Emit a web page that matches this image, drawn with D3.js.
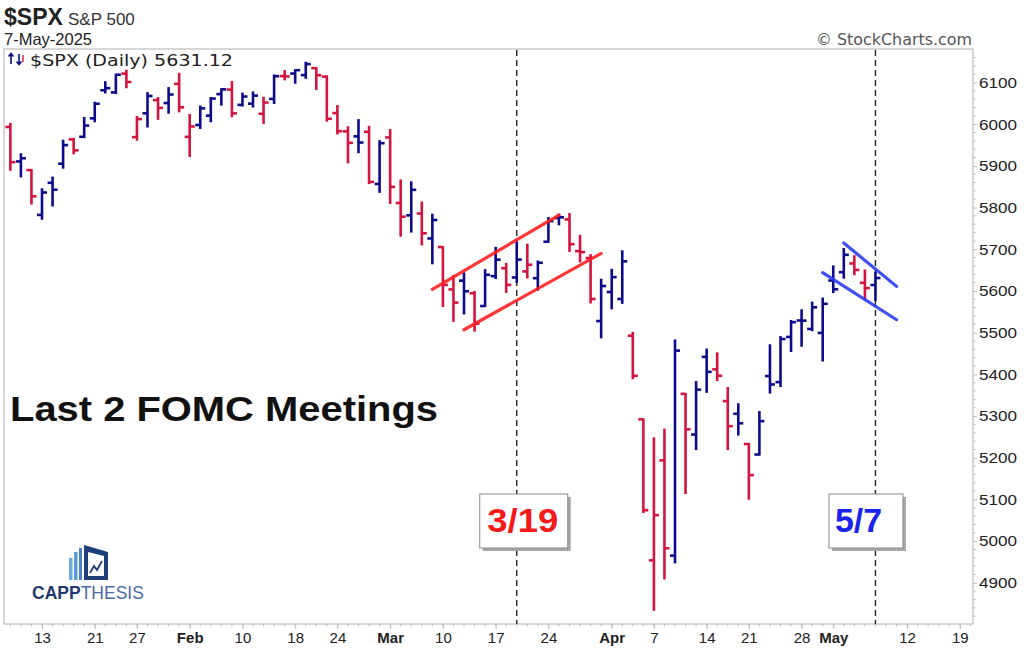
<!DOCTYPE html>
<html><head><meta charset="utf-8">
<script src="https://cdn.jsdelivr.net/npm/d3@7"></script>
<style>
body{margin:0;background:#fff;}
svg{display:block;font-family:"Liberation Sans",Arial,sans-serif;}
</style>
</head><body>
<svg id="c" width="1024" height="648"></svg>
<script>
// ---------------- DATA ----------------
const dates = ["2025-01-07","2025-01-08","2025-01-10","2025-01-13","2025-01-14","2025-01-15","2025-01-16","2025-01-17","2025-01-21","2025-01-22","2025-01-23","2025-01-24","2025-01-27","2025-01-28","2025-01-29","2025-01-30","2025-01-31",
"2025-02-03","2025-02-04","2025-02-05","2025-02-06","2025-02-07","2025-02-10","2025-02-11","2025-02-12","2025-02-13","2025-02-14","2025-02-18","2025-02-19","2025-02-20","2025-02-21","2025-02-24","2025-02-25","2025-02-26","2025-02-27","2025-02-28",
"2025-03-03","2025-03-04","2025-03-05","2025-03-06","2025-03-07","2025-03-10","2025-03-11","2025-03-12","2025-03-13","2025-03-14","2025-03-17","2025-03-18","2025-03-19","2025-03-20","2025-03-21","2025-03-24","2025-03-25","2025-03-26","2025-03-27","2025-03-28","2025-03-31",
"2025-04-01","2025-04-02","2025-04-03","2025-04-04","2025-04-07","2025-04-08","2025-04-09","2025-04-10","2025-04-11","2025-04-14","2025-04-15","2025-04-16","2025-04-17","2025-04-21","2025-04-22","2025-04-23","2025-04-24","2025-04-25","2025-04-28","2025-04-29","2025-04-30",
"2025-05-01","2025-05-02","2025-05-05","2025-05-06","2025-05-07"];

const opens = [5993.3,5910.7,5890.0,5782.4,5859.4,5905.2,5963.6,5969.8,6014.1,6081.4,6076.3,6121.4,5969.0,6026.0,6057.7,6050.8,6096.8,
5969.7,5998.1,6020.5,6072.2,6083.1,6046.4,6049.3,6025.1,6060.6,6115.5,6121.6,6117.8,6134.5,6114.1,6026.7,5982.7,5970.9,5981.9,5856.7,
5968.3,5811.1,5781.4,5785.9,5726.0,5705.4,5603.7,5624.8,5594.5,5563.9,5635.6,5654.5,5632.4,5646.9,5630.7,5718.1,5775.1,5771.7,5695.6,5679.0,5527.9,
5597.5,5580.8,5492.7,5292.1,4953.8,5193.6,4965.3,5353.2,5255.6,5442.0,5412.0,5335.8,5305.5,5232.9,5207.7,5395.9,5381.4,5489.7,5529.2,5508.9,5499.4,
5625.1,5645.1,5666.0,5619.6,5614.3];

const highs = [6000.7,5927.9,5890.0,5844.0,5871.9,5960.6,5964.7,6014.9,6051.5,6100.8,6118.7,6128.2,6017.2,6074.5,6062.8,6086.6,6120.9,
6022.1,6042.5,6062.9,6084.0,6101.3,6073.4,6076.3,6063.6,6116.9,6127.5,6129.6,6147.4,6134.5,6114.8,6043.6,5992.7,6009.8,5993.7,5959.4,
5986.1,5865.1,5860.6,5812.1,5783.0,5705.4,5636.3,5642.2,5597.8,5650.0,5703.5,5665.0,5715.3,5711.2,5670.8,5775.1,5783.2,5784.6,5732.3,5685.9,5627.0,
5650.8,5695.3,5499.5,5292.1,5246.6,5267.5,5481.3,5353.2,5381.5,5459.5,5450.4,5367.2,5328.3,5232.9,5309.6,5469.7,5489.4,5528.1,5553.7,5572.0,5581.8,
5658.9,5700.7,5683.4,5649.2,5644.0];

const lows = [5890.7,5874.8,5809.7,5773.3,5805.0,5895.7,5930.2,5969.0,6006.9,6076.1,6074.7,6088.7,5962.9,5994.6,6012.9,6027.5,6030.9,
5923.9,5990.9,6007.1,6046.8,6019.0,6044.8,6042.3,6003.0,6051.0,6107.6,6099.5,6111.2,6084.6,6008.6,5977.8,5908.5,5932.7,5858.8,5837.7,
5810.9,5732.6,5742.4,5711.6,5666.3,5564.0,5528.4,5546.1,5504.7,5563.9,5631.1,5597.8,5622.2,5632.3,5603.1,5718.1,5759.9,5695.9,5670.9,5572.4,5488.7,
5558.5,5571.5,5390.8,5069.9,4835.0,4910.4,4949.0,5115.3,5220.8,5358.0,5386.4,5220.8,5255.6,5101.6,5207.7,5356.2,5372.0,5455.9,5468.6,5505.7,5433.2,
5597.4,5631.9,5640.0,5581.2,5578.0];

const closes = [5909.0,5918.3,5827.0,5836.2,5842.9,5949.9,5937.3,5996.7,6049.2,6086.4,6118.7,6101.2,6012.3,6067.7,6039.3,6071.2,6040.5,
5994.6,6037.9,6061.5,6083.6,6026.0,6066.4,6068.5,6052.0,6115.1,6114.6,6129.6,6144.2,6117.5,6013.1,5983.3,5955.3,5956.1,5861.6,5954.5,
5849.7,5778.2,5842.6,5738.5,5770.2,5614.6,5572.1,5599.3,5521.5,5638.9,5675.1,5614.7,5675.3,5662.9,5667.6,5767.6,5776.7,5712.2,5693.3,5580.9,5611.9,
5633.1,5671.0,5396.5,5074.1,5062.3,4982.8,5456.9,5268.1,5363.4,5406.0,5396.6,5275.7,5282.7,5158.2,5287.8,5375.9,5484.8,5525.2,5528.8,5560.8,5569.1,
5604.1,5686.7,5650.4,5606.9,5631.1];

const futureDates = ["2025-05-08","2025-05-09","2025-05-12","2025-05-13","2025-05-14","2025-05-15","2025-05-16","2025-05-19","2025-05-20"];

const tickDates  = ["2025-01-13","2025-01-21","2025-01-27","2025-02-03","2025-02-10","2025-02-18","2025-02-24","2025-03-03","2025-03-10","2025-03-17","2025-03-24","2025-04-01","2025-04-07","2025-04-14","2025-04-21","2025-04-28","2025-05-01","2025-05-12","2025-05-19"];
const tickLabels = ["13","21","27","Feb","10","18","24","Mar","10","17","24","Apr","7","14","21","28","May","12","19"];
const monthLabels = ["Feb","Mar","Apr","May"];

const priceTicks = [4900,5000,5100,5200,5300,5400,5500,5600,5700,5800,5900,6000,6100];

const fomcDates  = ["2025-03-19","2025-05-07"];
const fomcLabels = ["3/19","5/7"];

// trend channels: [date, price] end points
const redUpper  = [["2025-03-07",5604],["2025-03-25",5782]];
const redLower  = [["2025-03-12",5507],["2025-03-31",5690]];
const blueUpper = [["2025-05-02",5715],["2025-05-09",5611]];
const blueLower = [["2025-04-30",5644],["2025-05-09",5531]];

const symbol = "$SPX", symbolName = "S&P 500", asOf = "7-May-2025";
const legendText = "$SPX (Daily) 5631.12";
const title = "Last 2 FOMC Meetings";

// ---------------- CHART ----------------
const svg = d3.select("#c");
const L = 4, T = 49, R = 973, B = 624;
const RED = "#d3153f", BLUE = "#0c0c8a";

const allDates = dates.concat(futureDates);
const x = d3.scalePoint().domain(allDates).range([10.35, 970.4]);
const y = d3.scaleLinear().domain([4800, 6178]).range([624.5, 50]);

// frame
svg.append("rect").attr("x", L).attr("y", T).attr("width", R - L).attr("height", B - T)
  .attr("fill", "#fff").attr("stroke", "#bdbdbd").attr("stroke-width", 1.2);

// right axis
const yAxis = svg.append("g").attr("transform", `translate(${R},0)`)
  .call(d3.axisRight(y).tickValues(priceTicks).tickSize(4).tickPadding(2).tickFormat(d3.format("d")));
yAxis.select(".domain").remove();
yAxis.selectAll(".tick line").attr("stroke", "#bbb");
yAxis.selectAll("text").attr("font-size", 15).attr("fill", "#222")
  .attr("textLength", 38).attr("lengthAdjust", "spacingAndGlyphs");
svg.append("g").selectAll("line").data(d3.range(4820, 6178, 20).filter(v => v % 100 !== 0)).join("line")
  .attr("x1", R).attr("x2", R + 2.5).attr("y1", d => y(d)).attr("y2", d => y(d)).attr("stroke", "#bbb");

// bottom axis
const xAxis = svg.append("g").attr("transform", `translate(0,${B})`)
  .call(d3.axisBottom(x).tickValues(tickDates).tickSize(5).tickPadding(3).tickFormat((d, i) => tickLabels[i]));
xAxis.select(".domain").remove();
xAxis.selectAll(".tick line").attr("stroke", "#bbb");
xAxis.selectAll("text").attr("font-size", 15).attr("fill", "#222")
  .attr("font-weight", d => monthLabels.includes(tickLabels[tickDates.indexOf(d)]) ? "bold" : "normal");
svg.append("g").selectAll("line").data(allDates).join("line")
  .attr("x1", d => x(d)).attr("x2", d => x(d)).attr("y1", B).attr("y2", B + 2.5).attr("stroke", "#bbb");

// dashed FOMC lines
svg.append("g").selectAll("line").data(fomcDates).join("line")
  .attr("x1", d => x(d)).attr("x2", d => x(d)).attr("y1", T + 1).attr("y2", B)
  .attr("stroke", "#222").attr("stroke-width", 1.4).attr("stroke-dasharray", "6,4");

// OHLC bars
const bars = dates.map((d, i) => ({
  d, o: opens[i], h: highs[i], l: lows[i], c: closes[i],
  up: closes[i] >= (i > 0 ? closes[i - 1] : opens[i])
}));
const bg = svg.append("g").attr("stroke-width", 2.6).attr("stroke-linecap", "butt");
const bar = bg.selectAll("g").data(bars).join("g").attr("stroke", b => b.up ? BLUE : RED);
bar.append("line").attr("x1", b => x(b.d)).attr("x2", b => x(b.d)).attr("y1", b => y(b.h) - 1).attr("y2", b => y(b.l) + 1);
bar.append("line").attr("x1", b => x(b.d) - 5).attr("x2", b => x(b.d)).attr("y1", b => y(b.o)).attr("y2", b => y(b.o));
bar.append("line").attr("x1", b => x(b.d)).attr("x2", b => x(b.d) + 5).attr("y1", b => y(b.c)).attr("y2", b => y(b.c));

// channels
const chan = (pts, col) => svg.append("line")
  .attr("x1", x(pts[0][0])).attr("y1", y(pts[0][1])).attr("x2", x(pts[1][0])).attr("y2", y(pts[1][1]))
  .attr("stroke", col).attr("stroke-width", 3.2).attr("stroke-opacity", 0.9).attr("stroke-linecap", "round");
chan(redUpper, "#ff1f1f"); chan(redLower, "#ff1f1f");
chan(blueUpper, "#2a3cf0"); chan(blueLower, "#2a3cf0");

// FOMC label boxes
const boxCfg = [{dx: -37, w: 88, tx: 6, col: "#f21b1b", tw: 71}, {dx: -46.5, w: 74, tx: -17, col: "#1a22ee", tw: 47}];
fomcDates.forEach((d, i) => {
  const c = boxCfg[i], bx = x(d) + c.dx, by = 494, bh = 54;
  svg.append("rect").attr("x", bx + 3).attr("y", by + 3).attr("width", c.w).attr("height", bh).attr("fill", "#a8a8a8");
  svg.append("rect").attr("x", bx).attr("y", by).attr("width", c.w).attr("height", bh)
    .attr("fill", "#fff").attr("stroke", "#8a8a8a").attr("stroke-width", 1);
  svg.append("text").attr("x", x(d) + c.tx).attr("y", 532).attr("text-anchor", "middle")
    .attr("font-size", 33).attr("font-weight", "bold").attr("fill", c.col)
    .attr("textLength", c.tw).attr("lengthAdjust", "spacingAndGlyphs").text(fomcLabels[i]);
});

// title text
svg.append("text").attr("x", 10).attr("y", 421).attr("font-size", 35).attr("font-weight", "bold")
  .attr("fill", "#111").attr("textLength", 428).attr("lengthAdjust", "spacingAndGlyphs").text(title);

// header
svg.append("text").attr("x", 4).attr("y", 25).attr("font-size", 23).attr("font-weight", "bold").attr("fill", "#222").text(symbol);
svg.append("text").attr("x", 68).attr("y", 25).attr("font-size", 17).attr("fill", "#333").text(symbolName);
svg.append("text").attr("x", 4).attr("y", 45).attr("font-size", 16.5).attr("fill", "#222").text(asOf);
svg.append("text").attr("x", 972).attr("y", 45).attr("text-anchor", "end").attr("font-size", 16)
  .attr("font-family", "'DejaVu Sans',Verdana,sans-serif").attr("fill", "#555")
  .attr("textLength", 156).attr("lengthAdjust", "spacingAndGlyphs").text("\u00A9 StockCharts.com");

// legend inside chart
const lg = svg.append("g");
lg.append("path").attr("d", "M11,64 L11,54 M8.5,56.5 L11,53.5 L13.5,56.5").attr("stroke", BLUE).attr("stroke-width", 1.6).attr("fill", "none");
lg.append("path").attr("d", "M19,54 L19,64 M16.5,61.5 L19,64.5 L21.5,61.5").attr("stroke", BLUE).attr("stroke-width", 1.6).attr("fill", "none");
lg.append("path").attr("d", "M23,55 L23,62").attr("stroke", RED).attr("stroke-width", 1.4);
lg.append("text").attr("x", 30).attr("y", 66).attr("font-size", 15.5).attr("font-family", "'DejaVu Sans',Verdana,sans-serif")
  .attr("fill", "#222").attr("textLength", 203).attr("lengthAdjust", "spacingAndGlyphs").text(legendText);

// logo
const lo = svg.append("g");
lo.append("rect").attr("x", 69).attr("y", 558).attr("width", 3.5).attr("height", 22).attr("fill", "#6aaee0");
lo.append("rect").attr("x", 74).attr("y", 552).attr("width", 3.5).attr("height", 28).attr("fill", "#5b9bd5");
lo.append("rect").attr("x", 79).attr("y", 548).attr("width", 3).attr("height", 32).attr("fill", "#4a86c5");
lo.append("path").attr("d", "M84,545 L108,552 L108,580 L84,580 Z").attr("fill", "#1f3f7a");
lo.append("path").attr("d", "M88,552 L104,556 L104,576 L88,576 Z").attr("fill", "#fff");
lo.append("path").attr("d", "M90,573 L94,566 L97,570 L102,561").attr("stroke", "#1f3f7a").attr("stroke-width", 1.8).attr("fill", "none");
const lt = lo.append("text").attr("x", 32).attr("y", 599).attr("font-size", 17.5).attr("fill", "#2a4a86");
lt.append("tspan").attr("font-weight", "bold").attr("fill", "#1f3a70").text("CAPP");
lt.append("tspan").attr("fill", "#4a6aa8").text("THESIS");
</script>
</body></html>
